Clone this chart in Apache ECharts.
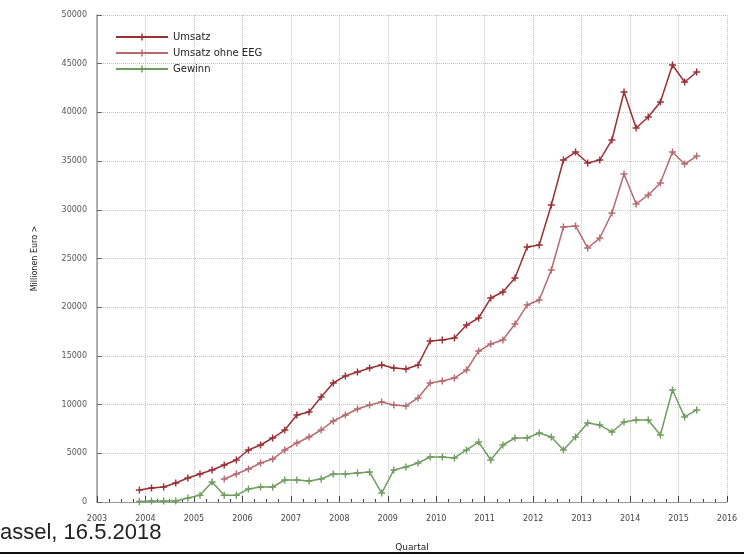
<!DOCTYPE html>
<html><head><meta charset="utf-8">
<script src="https://cdn.jsdelivr.net/npm/echarts@6/dist/echarts.min.js"></script>
<style>html,body{margin:0;padding:0;background:#fff}#c{width:744px;height:558px}</style>
</head><body><div id="c"></div>
<script>
// Quarters (year, quarter)
var quarters = ["2003Q4",
 "2004Q1","2004Q2","2004Q3","2004Q4",
 "2005Q1","2005Q2","2005Q3","2005Q4",
 "2006Q1","2006Q2","2006Q3","2006Q4",
 "2007Q1","2007Q2","2007Q3","2007Q4",
 "2008Q1","2008Q2","2008Q3","2008Q4",
 "2009Q1","2009Q2","2009Q3","2009Q4",
 "2010Q1","2010Q2","2010Q3","2010Q4",
 "2011Q1","2011Q2","2011Q3","2011Q4",
 "2012Q1","2012Q2","2012Q3","2012Q4",
 "2013Q1","2013Q2","2013Q3","2013Q4",
 "2014Q1","2014Q2","2014Q3","2014Q4",
 "2015Q1","2015Q2"];
var umsatz = [1230,
 1440,1540,1950,2460,
 2870,3290,3800,4310,
 5340,5850,6570,7390,
 8930,9240,10780,12220,
 12940,13350,13760,14070,
 13760,13650,14070,16530,
 16630,16840,18170,18890,
 20940,21560,23000,26180,
 26390,30490,35110,35930,
 34800,35110,37170,42100,
 38400,39530,41070,44870,
 43120,44150];
var umsatzOhneEEG = [null,
 null,null,null,null,
 null,null,2360,2870,
 3390,4000,4410,5340,
 6060,6670,7390,8320,
 8930,9550,9960,10270,
 9960,9860,10680,12220,
 12420,12730,13550,15500,
 16220,16630,18270,20220,
 20740,23820,28230,28340,
 26080,27100,29670,33680,
 30600,31520,32750,35930,
 34700,35520];
var gewinn = [50,
 100,100,100,400,
 700,2050,700,700,
 1330,1540,1540,2260,
 2260,2150,2360,2870,
 2870,2980,3080,920,
 3290,3590,4000,4620,
 4620,4520,5340,6160,
 4310,5850,6570,6570,
 7080,6670,5340,6670,
 8110,7900,7190,8210,
 8420,8420,6880,11500,
 8730,9450];
var seriesNames = ["Umsatz","Umsatz ohne EEG","Gewinn"];
var yearTicks = [2003,2004,2005,2006,2007,2008,2009,2010,2011,2012,2013,2014,2015,2016];

function qx(q){ var y=parseInt(q.slice(0,4),10), n=parseInt(q.slice(5),10); return y+(n-0.5)/4; }
function pairs(vals){ return quarters.map(function(q,i){ return [qx(q), vals[i]]; }); }

var cross = 'path://M4,0h2v4h4v2h-4v4h-2v-4h-4v-2h4z';
function mk(name, vals, color){
  return {name:name, type:'line', data:pairs(vals), connectNulls:false,
    symbol:cross, symbolSize:7, showSymbol:true,
    lineStyle:{color:color, width:1.5}, itemStyle:{color:color}, animation:false};
}
var chart = echarts.init(document.getElementById('c'), null, {renderer:'canvas'});
chart.setOption({
  animation:false,
  backgroundColor:'#fff',
  grid:{left:97, right:17, top:15, bottom:56},
  legend:{orient:'vertical', left:110, top:27, itemWidth:52, itemHeight:9, itemGap:6,
    textStyle:{fontSize:10, color:'#222', fontFamily:'DejaVu Sans'},
    data:seriesNames},
  xAxis:{type:'value', min:yearTicks[0], max:yearTicks[yearTicks.length-1], interval:1,
    name:'Quartal', nameLocation:'middle', nameGap:41,
    nameTextStyle:{fontSize:9, color:'#222', fontFamily:'DejaVu Sans'},
    axisLine:{lineStyle:{color:'#999'}},
    axisTick:{inside:true, length:6, lineStyle:{color:'#444'}},
    minorTick:{show:true, splitNumber:4, length:3, lineStyle:{color:'#444'}},
    axisLabel:{fontSize:8, color:'#444', margin:13, fontFamily:'DejaVu Sans', formatter:function(v){return String(v);}},
    splitLine:{show:true, lineStyle:{type:'dotted', color:'#c4c4c4'}}},
  yAxis:{type:'value', min:0, max:50000, interval:5000,
    name:'Millionen Euro >', nameLocation:'middle', nameGap:58, nameRotate:90,
    nameTextStyle:{fontSize:8, color:'#222', fontFamily:'DejaVu Sans'},
    axisLine:{show:true, lineStyle:{color:'#999', width:1.5}},
    axisTick:{show:true, inside:true, length:5, lineStyle:{color:'#666'}},
    axisLabel:{fontSize:8, color:'#555', margin:10, fontFamily:'DejaVu Sans', formatter:function(v){return String(v);}},
    splitLine:{show:true, lineStyle:{type:'dotted', color:'#c4c4c4'}}},
  series:[
    mk(seriesNames[0], umsatz, '#9a2f35'),
    mk(seriesNames[1], umsatzOhneEEG, '#b56a70'),
    mk(seriesNames[2], gewinn, '#6f9c5f')
  ],
  graphic:[
    {type:'rect', left:0, top:552, shape:{width:744, height:2}, style:{fill:'#111'}, z:100},
    {type:'text', left:0, top:522, style:{text:'assel, 16.5.2018', fontSize:22, fill:'#222', fontFamily:'Liberation Sans'}, z:100}
  ]
});
</script></body></html>
